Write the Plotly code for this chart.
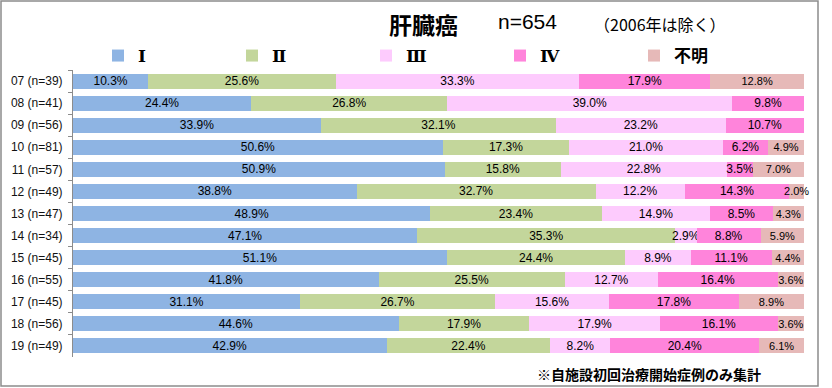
import plotly.graph_objects as go

categories = ["07 (n=39)", "08 (n=41)", "09 (n=56)", "10 (n=81)", "11 (n=57)", "12 (n=49)",
              "13 (n=47)", "14 (n=34)", "15 (n=45)", "16 (n=55)", "17 (n=45)", "18 (n=56)", "19 (n=49)"]
stage1 = [10.3, 24.4, 33.9, 50.6, 50.9, 38.8, 48.9, 47.1, 51.1, 41.8, 31.1, 44.6, 42.9]
stage2 = [25.6, 26.8, 32.1, 17.3, 15.8, 32.7, 23.4, 35.3, 24.4, 25.5, 26.7, 17.9, 22.4]
stage3 = [33.3, 39.0, 23.2, 21.0, 22.8, 12.2, 14.9, 2.9, 8.9, 12.7, 15.6, 17.9, 8.2]
stage4 = [17.9, 9.8, 10.7, 6.2, 3.5, 14.3, 8.5, 8.8, 11.1, 16.4, 17.8, 16.1, 20.4]
unknown = [12.8, 0.0, 0.0, 4.9, 7.0, 2.0, 4.3, 5.9, 4.4, 3.6, 8.9, 3.6, 6.1]
series_names = ["Ⅰ", "Ⅱ", "Ⅲ", "Ⅳ", "不明"]
series_values = [stage1, stage2, stage3, stage4, unknown]
colors = ["#8EB4E3", "#C3D69B", "#FDCBFD", "#FF84DB", "#E6B9B8"]
label_sizes = [12, 12, 12, 12, 11]

W, H = 832, 388
L, R, T, B = 73, 28, 70, 31
PW, PH = W - L - R, H - T - B


def px_x(px):
    return (px - L) / PW


def px_y(py):
    return (H - B - py) / PH


fig = go.Figure()
for name, vals, col, fs in zip(series_names, series_values, colors, label_sizes):
    fig.add_trace(go.Bar(
        y=categories, x=vals, name=f"<b>{name}</b>", orientation="h",
        marker=dict(color=col, line=dict(width=0)),
        text=[f"{v:.1f}%" if v > 0 else "" for v in vals],
        textposition="inside", insidetextanchor="middle", constraintext="none", textangle=0,
        textfont=dict(family="Liberation Sans, Arial", size=fs, color="#000000"),
        cliponaxis=False, hoverinfo="skip",
    ))

fig.update_layout(
    width=W, height=H,
    margin=dict(l=L, r=R, t=T, b=B, pad=0, autoexpand=False),
    barmode="stack", barnorm="percent", bargap=0.32,
    plot_bgcolor="white", paper_bgcolor="white",
    showlegend=True,
    legend=dict(orientation="h", entrywidth=89, entrywidthmode="pixels",
                x=px_x(98), xanchor="left", y=px_y(56), yanchor="middle",
                itemwidth=30, traceorder="normal",
                font=dict(family="DejaVu Serif, Noto Sans CJK JP", size=17, color="#000000"),
                bgcolor="rgba(0,0,0,0)"),
    xaxis=dict(range=[0, 100], visible=False, fixedrange=True),
    yaxis=dict(autorange="reversed", type="category", showline=True, linecolor="#8c8c8c", linewidth=1,
               ticks="outside", tickson="boundaries", ticklen=4, tickcolor="#8c8c8c",
               ticklabelstandoff=7, automargin=False, fixedrange=True,
               tickfont=dict(family="Liberation Sans, Arial", size=12, color="#111111"),
               showgrid=False, zeroline=False),
)

fig.add_annotation(text="<b>肝臓癌</b>", xref="paper", yref="paper", x=px_x(423), y=px_y(24),
                   xanchor="center", yanchor="middle", showarrow=False,
                   font=dict(family="Noto Sans CJK JP", size=23, color="#000000"))
fig.add_annotation(text="n=654", xref="paper", yref="paper", x=px_x(496), y=px_y(21),
                   xanchor="left", yanchor="middle", showarrow=False,
                   font=dict(family="Liberation Sans, Arial", size=21, color="#000000"))
fig.add_annotation(text="（2006年は除く）", xref="paper", yref="paper", x=px_x(592), y=px_y(24),
                   xanchor="left", yanchor="middle", showarrow=False,
                   font=dict(family="Noto Sans CJK JP", size=16, color="#000000"))
fig.add_annotation(text="<b>※自施設初回治療開始症例のみ集計</b>", xref="paper", yref="paper",
                   x=px_x(763), y=px_y(374), xanchor="right", yanchor="middle", showarrow=False,
                   font=dict(family="Noto Sans CJK JP", size=14, color="#000000"))

fig.add_shape(type="rect", xref="paper", yref="paper",
              x0=px_x(1), x1=px_x(818), y0=px_y(386), y1=px_y(1),
              line=dict(color="#8c8c8c", width=1.5), fillcolor="rgba(0,0,0,0)", layer="above")

fig.write_html("out.html", config={"displayModeBar": False},
               post_script="document.body.style.margin='0';document.body.style.padding='0';")
